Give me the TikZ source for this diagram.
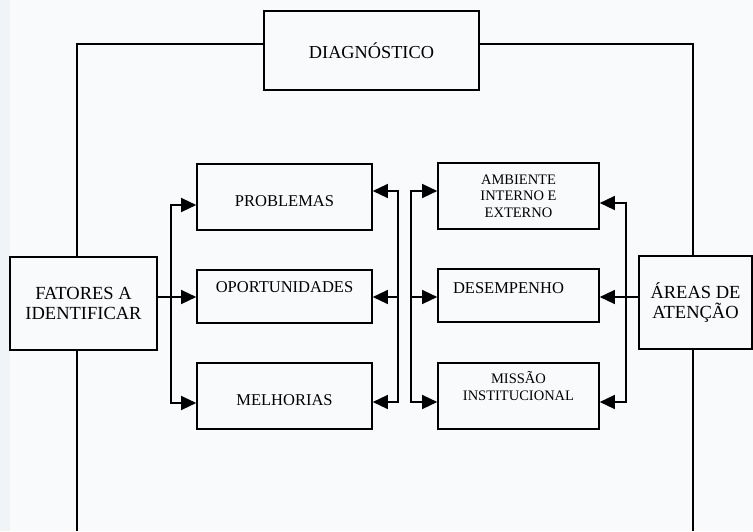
\documentclass[tikz,border=0pt]{standalone}
\usepackage{fontspec}
\setmainfont{Liberation Serif}
\usetikzlibrary{arrows.meta, positioning}
\definecolor{fundo}{HTML}{F9FAFC}
\definecolor{fundoborda}{HTML}{F1F4F6}
\tikzset{
  caixa/.style={rectangle, draw=black, line width=1.6pt, fill=fundo,
                align=center, inner sep=0pt},
  caixagrande/.style={caixa, font=\fontsize{18.5}{19.5}\selectfont},
  caixamedia/.style={caixa, minimum width=175pt, font=\fontsize{16.5}{18}\selectfont},
  caixadir/.style={caixa, minimum width=161pt, font=\fontsize{14.5}{16.7}\selectfont},
  linha/.style={line width=1.3pt},
  seta/.style={-{Triangle[length=15pt, width=14pt]}, line width=1.3pt},
}

\begin{document}
\begin{tikzpicture}[x=1pt, y=-1pt]
    % Fundo
    \useasboundingbox (0,0) rectangle (753,531);
    \fill[fundo] (0,0) rectangle (753,531);
    \fill[fundoborda] (0,0) rectangle (10,531);
    % Bloco Diagnostico
    \node[caixagrande, font=\fontsize{18.3}{20}\selectfont, minimum width=215pt,
          minimum height=79pt] (diag) at (371.5, 50.5) {DIAGNÓSTICO};
    % Blocos laterais
    \node[caixagrande, minimum width=147pt, minimum height=93pt] (fat) at (83.5, 303.5)
      {FATORES A\\IDENTIFICAR};
    \node[caixagrande, minimum width=113pt, minimum height=93pt] (areas) at (695.5, 302.5)
      {ÁREAS DE\\ATENÇÃO};
    % Coluna da esquerda
    \node[caixamedia, minimum height=66pt] (prob) at (284.5, 197)
      {\raisebox{-4pt}[\height][\depth]{PROBLEMAS}};
    \node[caixamedia, minimum height=53pt] (oport) at (284.5, 296.5)
      {\raisebox{9pt}[\height][\depth]{OPORTUNIDADES}};
    \node[caixamedia, minimum height=66pt] (melh) at (284.5, 396)
      {\raisebox{-4pt}[\height][\depth]{MELHORIAS}};
    % Coluna da direita
    \node[caixadir, minimum height=66pt] (amb) at (518.5, 196)
      {AMBIENTE\\INTERNO E\\EXTERNO};
    \node[caixadir, font=\fontsize{16.5}{18}\selectfont, minimum height=53pt] (desemp)
      at (518.5, 295.5) {\raisebox{7pt}[\height][\depth]{DESEMPENHO}\hspace*{20pt}};
    \node[caixadir, minimum height=66pt] (missao) at (518.5, 396)
      {\raisebox{7.5pt}[\height][\depth]{\begin{tabular}{@{}c@{}}MISSÃO\\INSTITUCIONAL\end{tabular}}};
    % Pontos de ramificacao
    \coordinate (ramo1) at (171, 297);
    \coordinate (ramo2) at (398, 297);
    \coordinate (ramo3) at (411, 297);
    \coordinate (ramo4) at (626, 297);
    \coordinate (baseesq) at (77, 531);
    \coordinate (basedir) at (693, 531);
    % Moldura do diagnostico
    \draw[linha] ([yshift=6.5pt]diag.west) -| ([xshift=-6.5pt]fat.north);
    \draw[linha] ([yshift=6.5pt]diag.east) -| ([xshift=-2.5pt]areas.north);
    \draw[linha] ([xshift=-6.5pt]fat.south) -- (baseesq);
    \draw[linha] ([xshift=-2.5pt]areas.south) -- (basedir);
    % Fatores a identificar
    \draw[seta] (fat.east |- ramo1) -- (oport.west |- ramo1);
    \draw[seta] (ramo1) |- ([yshift=-8pt]prob.west);
    \draw[seta] (ramo1) |- ([yshift=-7pt]melh.west);
    % Retorno para a coluna da esquerda
    \draw[seta] (ramo2) |- ([yshift=6pt]prob.east);
    \draw[seta] (ramo2) -- (oport.east |- ramo2);
    \draw[seta] (ramo2) |- ([yshift=-6pt]melh.east);
    % Entrada da coluna da direita
    \draw[seta] (ramo3) |- ([yshift=5pt]amb.west);
    \draw[seta] (ramo3) -- (desemp.west |- ramo3);
    \draw[seta] (ramo3) |- ([yshift=-6pt]missao.west);
    % Areas de atencao
    \draw[seta] (areas.west |- ramo4) -- (desemp.east |- ramo4);
    \draw[seta] (ramo4) |- ([yshift=-7pt]amb.east);
    \draw[seta] (ramo4) |- ([yshift=-6pt]missao.east);
  \end{tikzpicture}
\end{document}
